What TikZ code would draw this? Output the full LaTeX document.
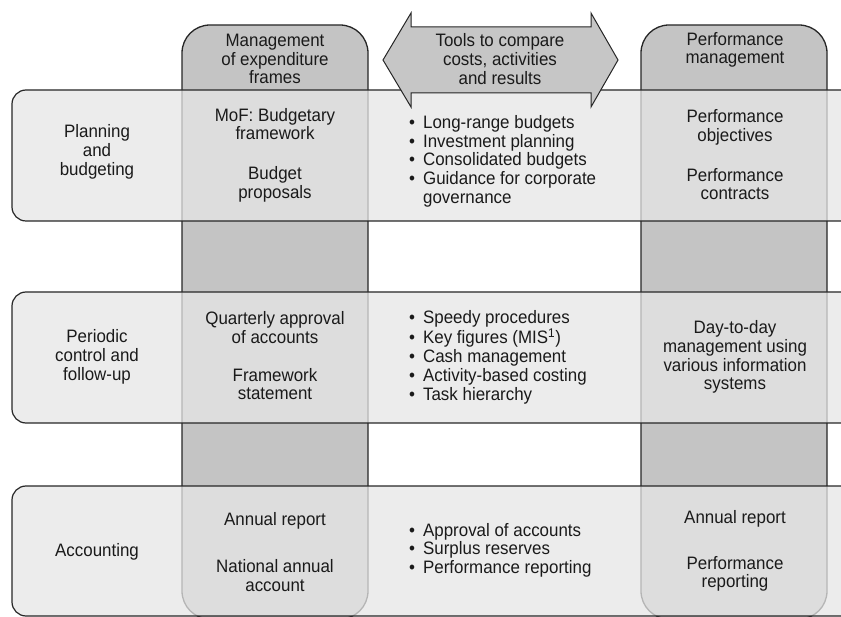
\documentclass[tikz,border=0pt]{standalone}
\usepackage{fontspec}
\setmainfont[FakeStretch=0.94]{Liberation Sans}
\begin{document}
\begin{tikzpicture}[x=1pt,y=-1pt,
  colbox/.style={fill=colfill, draw=linec, line width=1.3pt, rounded corners=28pt},
  rowbox/.style={fill=rowfill, fill opacity=0.75, draw=linec, line width=1.2pt, rounded corners=14pt},
  arrowbox/.style={fill=arrfill, draw=linec, line width=1pt, line join=miter},
  txt/.style={font=\fontsize{18}{18.7}\selectfont, text=textc, inner sep=0pt, align=center},
  blist/.style={font=\fontsize{18}{18.7}\selectfont, text=textc, inner sep=0pt, anchor=west}]
\definecolor{colfill}{HTML}{C4C4C4}
\definecolor{rowfill}{HTML}{E6E6E6}
\definecolor{arrfill}{HTML}{C6C6C6}
\definecolor{linec}{HTML}{262626}
\definecolor{textc}{HTML}{1A1A1A}
\useasboundingbox (0,0) rectangle (841,617);
\clip (0,0) rectangle (841,617);
% columns
\draw[colbox] (182,619) rectangle (368,25);
\draw[colbox] (641,619) rectangle (827,25);
% rows
\draw[rowbox] (12,90) rectangle (880,221);
\draw[rowbox] (12,292) rectangle (880,423);
\draw[rowbox] (12,486) rectangle (880,616);
% double arrow
\draw[arrowbox] (383,60) -- (411,13) -- (411,27) -- (591,27) -- (591,13) -- (618,60)
  -- (591,107) -- (591,93) -- (411,93) -- (411,107) -- cycle;
% headers
\node[txt] (h1) at (275,59) {Management\\of expenditure\\frames};
\node[txt] (h2) at (735,50) {Performance\\management};
\node[txt] (h3) at (500,59) {Tools to compare\\costs, activities\\and results};
% row 1
\node[txt] (r1l) at (97,152) {Planning\\and\\budgeting};
\node[txt] (r1a) at (275,155) {MoF: Budgetary\\framework\\[21pt]Budget\\proposals};
\node[blist] (r1b) at (409,162) {\begin{tabular}{@{}c@{\hspace{8pt}}l@{}}
\textbullet & Long-range budgets\\
\textbullet & Investment planning\\
\textbullet & Consolidated budgets\\
\textbullet & Guidance for corporate\\
 & governance\end{tabular}};
\node[txt] (r1c) at (735,155) {Performance\\objectives\\[21pt]Performance\\contracts};
% row 2
\node[txt] (r2l) at (97,357) {Periodic\\control and\\follow-up};
\node[txt] (r2a) at (275,356) {Quarterly approval\\of accounts\\[19pt]Framework\\statement};
\node[blist] (r2b) at (409,358) {\begin{tabular}{@{}c@{\hspace{8pt}}l@{}}
\textbullet & Speedy procedures\\
\textbullet & Key figures (MIS\textsuperscript{1})\\
\textbullet & Cash management\\
\textbullet & Activity-based costing\\
\textbullet & Task hierarchy\end{tabular}};
\node[txt] (r2c) at (735,357) {Day-to-day\\management using\\various information\\systems};
% row 3
\node[txt] (r3l) at (97,552) {Accounting};
\node[txt] (r3a) at (275,552) {Annual report\\[28pt]National annual\\account};
\node[blist] (r3b) at (409,551) {\begin{tabular}{@{}c@{\hspace{8pt}}l@{}}
\textbullet & Approval of accounts\\
\textbullet & Surplus reserves\\
\textbullet & Performance reporting\end{tabular}};
\node[txt] (r3c) at (735,551) {Annual report\\[27pt]Performance\\reporting};
\end{tikzpicture}
\end{document}
